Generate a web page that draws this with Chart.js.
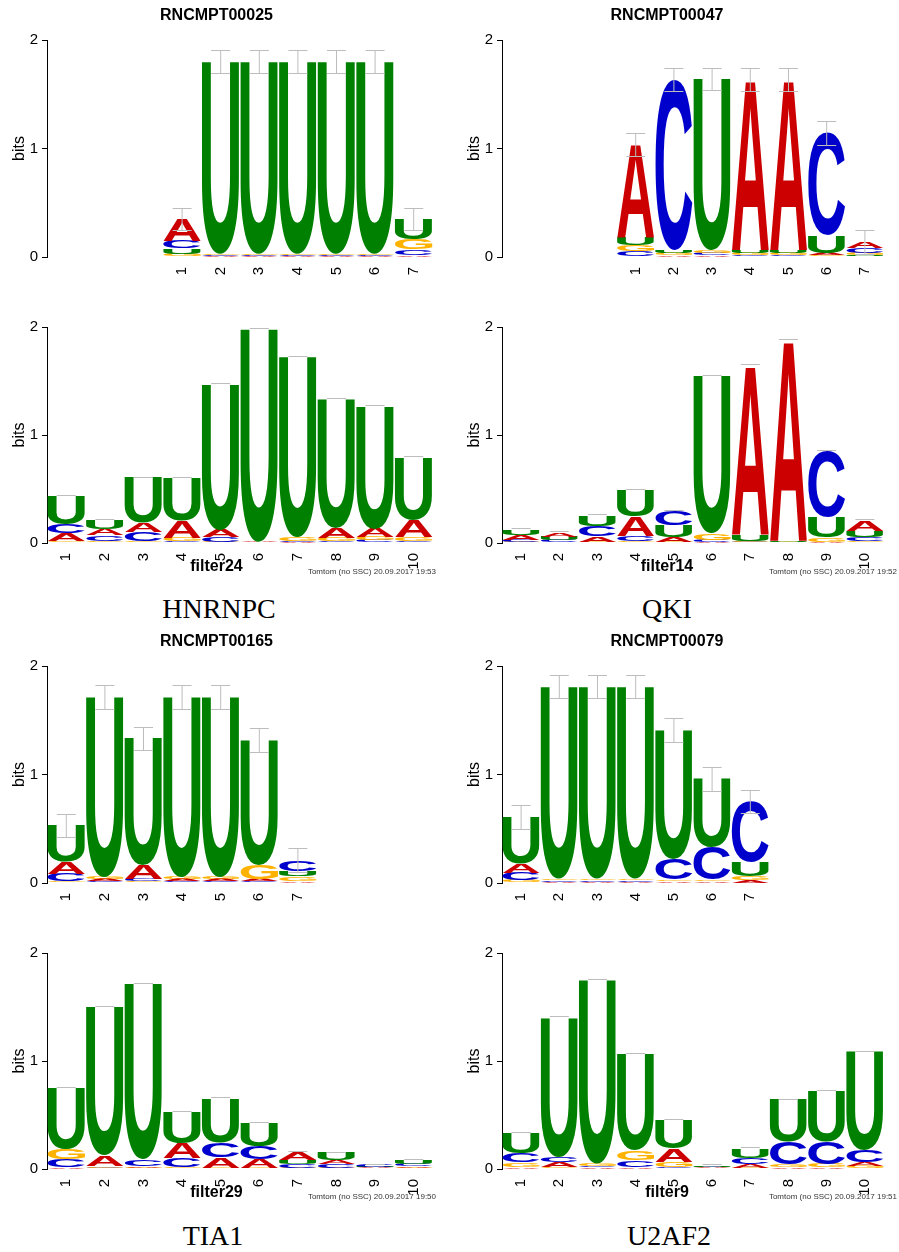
<!DOCTYPE html>
<html>
<head>
<meta charset="utf-8">
<script src="https://cdn.jsdelivr.net/npm/chart.js@4.4.0/dist/chart.umd.min.js"></script>
<style>
  body { margin: 0; background: #fff; width: 899px; height: 1252px; position: relative; overflow: hidden; }
  canvas { position: absolute; }
  .stamp { position: absolute; font: 8px "Liberation Sans", Arial, sans-serif; color: #333; white-space: nowrap; text-align: right; line-height: 10px; }
  .cap { position: absolute; font: 28px "Liberation Serif", "Times New Roman", serif; line-height: 32px; transform: translateX(-50%); white-space: nowrap; color: #000; }
</style>
</head>
<body>
<canvas id="c1" width="440" height="290" style="left:0;top:0"></canvas>
<canvas id="c2" width="449" height="290" style="left:450px;top:0"></canvas>
<canvas id="c3" width="440" height="300" style="left:0;top:290px"></canvas>
<canvas id="c4" width="449" height="300" style="left:450px;top:290px"></canvas>
<canvas id="c5" width="440" height="290" style="left:0;top:626px"></canvas>
<canvas id="c6" width="449" height="290" style="left:450px;top:626px"></canvas>
<canvas id="c7" width="440" height="300" style="left:0;top:916px"></canvas>
<canvas id="c8" width="449" height="300" style="left:450px;top:916px"></canvas>

<div class="stamp" style="right:463px;top:567px">Tomtom (no SSC) 20.09.2017 19:53</div>
<div class="stamp" style="right:2px;top:567px">Tomtom (no SSC) 20.09.2017 19:52</div>
<div class="stamp" style="right:463px;top:1192px">Tomtom (no SSC) 20.09.2017 19:50</div>
<div class="stamp" style="right:2px;top:1192px">Tomtom (no SSC) 20.09.2017 19:51</div>

<div class="cap" style="left:219px;top:593px">HNRNPC</div>
<div class="cap" style="left:667px;top:593px">QKI</div>
<div class="cap" style="left:213px;top:1220px">TIA1</div>
<div class="cap" style="left:669px;top:1220px">U2AF2</div>

<script>
// position labels
const motifPos = ['1', '2', '3', '4', '5', '6', '7'];
const filterPos = ['1', '2', '3', '4', '5', '6', '7', '8', '9', '10'];

// HNRNPC - RNCMPT00025 (bits per letter, per position)
const rn25A = [0.20, 0.01, 0.01, 0.01, 0.01, 0.01, 0.02];
const rn25C = [0.07, 0.01, 0.01, 0.01, 0.01, 0.01, 0.05];
const rn25G = [0.03, 0.01, 0.01, 0.01, 0.01, 0.01, 0.09];
const rn25U = [0.05, 1.77, 1.77, 1.77, 1.77, 1.77, 0.19];
const rn25Err = [0.105, 0.105, 0.105, 0.105, 0.105, 0.105, 0.105];

// HNRNPC - filter24
const f24A = [0.07, 0.06, 0.085, 0.16, 0.065, 0.005, 0.01, 0.09, 0.08, 0.16];
const f24C = [0.08, 0.05, 0.08, 0.02, 0.045, 0.003, 0.01, 0.015, 0.025, 0.02];
const f24G = [0.02, 0.02, 0.02, 0.03, 0.01, 0.003, 0.035, 0.035, 0.03, 0.035];
const f24U = [0.26, 0.08, 0.42, 0.39, 1.35, 1.97, 1.67, 1.19, 1.13, 0.58];

// QKI - RNCMPT00047
const rn47A = [0.86, 0.02, 0.015, 1.57, 1.57, 0.02, 0.055];
const rn47C = [0.05, 1.57, 0.02, 0.02, 0.02, 0.95, 0.045];
const rn47G = [0.06, 0.02, 0.025, 0.02, 0.02, 0.015, 0.02];
const rn47U = [0.065, 0.025, 1.58, 0.025, 0.025, 0.16, 0.018];
const rn47Err = [0.105, 0.105, 0.105, 0.105, 0.105, 0.11, 0.11];

// QKI - filter14
const f14A = [0.045, 0.04, 0.05, 0.185, 0.045, 0.01, 1.57, 1.86, 0.01, 0.10];
const f14C = [0.02, 0.02, 0.095, 0.05, 0.135, 0.02, 0.01, 0.005, 0.61, 0.04];
const f14G = [0.01, 0.008, 0.01, 0.015, 0.01, 0.06, 0.01, 0.005, 0.04, 0.015];
const f14U = [0.05, 0.03, 0.10, 0.24, 0.11, 1.46, 0.06, 0.01, 0.19, 0.055];

// TIA1 - RNCMPT00165
const rn165A = [0.11, 0.02, 0.13, 0.02, 0.02, 0.02, 0.02];
const rn165C = [0.07, 0.015, 0.02, 0.015, 0.015, 0.015, 0.10];
const rn165G = [0.015, 0.02, 0.015, 0.02, 0.02, 0.13, 0.04];
const rn165U = [0.335, 1.66, 1.17, 1.66, 1.66, 1.15, 0.05];
const rn165Err = [0.11, 0.11, 0.105, 0.11, 0.11, 0.11, 0.11];

// TIA1 - filter29
const f29A = [0.02, 0.10, 0.015, 0.14, 0.10, 0.085, 0.07, 0.04, 0.008, 0.015];
const f29C = [0.07, 0.01, 0.06, 0.085, 0.135, 0.115, 0.035, 0.035, 0.018, 0.025];
const f29G = [0.095, 0.015, 0.01, 0.015, 0.01, 0.01, 0.012, 0.01, 0.006, 0.01];
const f29U = [0.56, 1.37, 1.63, 0.29, 0.41, 0.215, 0.04, 0.065, 0.008, 0.035];

// U2AF2 - RNCMPT00079
const rn79A = [0.08, 0.013, 0.013, 0.013, 0.015, 0.015, 0.03];
const rn79C = [0.07, 0.013, 0.013, 0.013, 0.19, 0.30, 0.555];
const rn79G = [0.025, 0.014, 0.014, 0.014, 0.015, 0.015, 0.035];
const rn79U = [0.43, 1.77, 1.77, 1.77, 1.19, 0.63, 0.13];
const rn79Err = [0.11, 0.105, 0.105, 0.105, 0.11, 0.11, 0.105];

// U2AF2 - filter9
const f9A = [0.02, 0.045, 0.015, 0.02, 0.125, 0.008, 0.035, 0.015, 0.015, 0.035];
const f9C = [0.085, 0.05, 0.015, 0.065, 0.02, 0.008, 0.06, 0.21, 0.21, 0.11];
const f9G = [0.04, 0.02, 0.02, 0.09, 0.045, 0.007, 0.01, 0.025, 0.03, 0.03];
const f9U = [0.19, 1.29, 1.70, 0.89, 0.26, 0.009, 0.085, 0.39, 0.465, 0.91];

const filterCap = 0.01;
const letterColors = { A: '#cc0000', C: '#0000cc', G: '#ffb300', U: '#008000' };
const FONT = '"Liberation Sans", Arial, Helvetica, sans-serif';
Chart.defaults.font.family = FONT;
Chart.defaults.color = '#000';

// one dataset per stack rank (smallest letter at the bottom)
function stackLetters(cols, offset, slots) {
  const sets = [0, 1, 2, 3].map(() => ({
    data: new Array(slots).fill(null),
    letters: new Array(slots).fill(null),
    backgroundColor: 'rgba(0,0,0,0)',
    borderWidth: 0
  }));
  const n = cols.A.length;
  for (let i = 0; i < n; i++) {
    const order = ['A', 'C', 'G', 'U'].map(l => [l, cols[l][i]]).sort((a, b) => a[1] - b[1]);
    order.forEach((e, r) => {
      sets[r].data[i + offset] = e[1];
      sets[r].letters[i + offset] = e[0];
    });
  }
  return sets;
}

function drawGlyph(ctx, ch, left, top, w, h) {
  ctx.save();
  ctx.font = 'bold 100px ' + FONT;
  ctx.textAlign = 'left';
  ctx.textBaseline = 'alphabetic';
  const m = ctx.measureText(ch);
  const gw = m.actualBoundingBoxLeft + m.actualBoundingBoxRight;
  const gh = m.actualBoundingBoxAscent + m.actualBoundingBoxDescent;
  ctx.translate(left, top);
  ctx.scale(w / gw, h / gh);
  ctx.fillStyle = letterColors[ch];
  ctx.fillText(ch, m.actualBoundingBoxLeft, m.actualBoundingBoxAscent);
  ctx.restore();
}

const logoLetters = {
  id: 'logoLetters',
  afterDatasetsDraw(chart) {
    const ctx = chart.ctx;
    chart.data.datasets.forEach((ds, di) => {
      chart.getDatasetMeta(di).data.forEach((bar, i) => {
        if (ds.data[i] == null || !ds.letters[i]) return;
        const p = bar.getProps(['x', 'y', 'base', 'width'], true);
        const h = p.base - p.y;
        if (!(h > 0.15)) return;
        drawGlyph(ctx, ds.letters[i], p.x - p.width / 2, p.y, p.width, h);
      });
    });
  }
};

const errorBars = {
  id: 'errorBars',
  afterDatasetsDraw(chart, args, opts) {
    const ctx = chart.ctx, xs = chart.scales.x, ys = chart.scales.y;
    const slots = chart.data.labels.length;
    ctx.save();
    ctx.strokeStyle = '#bdbdbd';
    ctx.lineWidth = 1;
    let k = 0;
    for (let i = 0; i < slots; i++) {
      let total = null;
      chart.data.datasets.forEach(ds => { if (ds.data[i] != null) total = (total || 0) + ds.data[i]; });
      if (total == null) continue;
      const cx = xs.getPixelForValue(i);
      const half = 9.5;
      ctx.beginPath();
      if (opts.err) {
        const e = opts.err[k++];
        const hi = Math.round(ys.getPixelForValue(total + e)) + 0.5;
        const lo = Math.round(ys.getPixelForValue(total - e)) + 0.5;
        ctx.moveTo(cx - half, hi); ctx.lineTo(cx + half, hi);
        ctx.moveTo(cx - half, lo); ctx.lineTo(cx + half, lo);
        ctx.moveTo(cx, hi); ctx.lineTo(cx, lo);
      } else {
        const hi = Math.round(ys.getPixelForValue(total + opts.cap)) + 0.5;
        ctx.moveTo(cx - half, hi); ctx.lineTo(cx + half, hi);
      }
      ctx.stroke();
    }
    ctx.restore();
  }
};

function makeLogo(id, o) {
  const datasets = stackLetters(o.cols, o.offset, o.labels.length);
  const isTop = o.titlePos === 'top';
  new Chart(document.getElementById(id), {
    type: 'bar',
    data: { labels: o.labels, datasets },
    options: {
      responsive: false,
      animation: false,
      layout: { padding: { top: isTop ? 0 : 37, right: o.right ? 15 : 7, left: 0, bottom: 0 } },
      datasets: { bar: { categoryPercentage: 1, barPercentage: 0.97 } },
      plugins: {
        colors: { enabled: false },
        legend: { display: false },
        tooltip: { enabled: false },
        title: {
          display: true, text: o.title, position: o.titlePos, color: '#000',
          font: { size: 16, weight: 'bold' },
          padding: isTop ? { top: 6.4, bottom: 14.4 } : { top: -11, bottom: 13.4 }
        },
        errorBars: { err: o.err, cap: filterCap }
      },
      scales: {
        x: {
          stacked: true,
          grid: { display: false },
          border: { display: false },
          ticks: { minRotation: 90, maxRotation: 90, autoSkip: false, padding: 2, font: { size: 15 }, color: '#000' },
          afterFit: s => { s.height = isTop ? 33 : 25.4; }
        },
        y: {
          stacked: true, min: 0, max: 2,
          ticks: { stepSize: 1, padding: 4, font: { size: 15 }, color: '#000' },
          grid: { drawOnChartArea: false, drawTicks: true, tickLength: 5, color: '#000' },
          border: { display: true, color: '#000', width: 1 },
          title: { display: true, text: 'bits', font: { size: 16 }, color: '#000', padding: { top: o.right ? 15.4 : 10.4, bottom: 0 } },
          afterFit: s => { s.width = o.right ? 52 : 47; }
        }
      }
    },
    plugins: [logoLetters, errorBars]
  });
}

const pad3 = ['', '', ''];
makeLogo('c1', { title: 'RNCMPT00025', titlePos: 'top', labels: pad3.concat(motifPos), offset: 3,
  cols: { A: rn25A, C: rn25C, G: rn25G, U: rn25U }, err: rn25Err });
makeLogo('c2', { title: 'RNCMPT00047', titlePos: 'top', labels: pad3.concat(motifPos), offset: 3, right: true,
  cols: { A: rn47A, C: rn47C, G: rn47G, U: rn47U }, err: rn47Err });
makeLogo('c3', { title: 'filter24', titlePos: 'bottom', labels: filterPos, offset: 0,
  cols: { A: f24A, C: f24C, G: f24G, U: f24U } });
makeLogo('c4', { title: 'filter14', titlePos: 'bottom', labels: filterPos, offset: 0, right: true,
  cols: { A: f14A, C: f14C, G: f14G, U: f14U } });
makeLogo('c5', { title: 'RNCMPT00165', titlePos: 'top', labels: motifPos.concat(pad3), offset: 0,
  cols: { A: rn165A, C: rn165C, G: rn165G, U: rn165U }, err: rn165Err });
makeLogo('c6', { title: 'RNCMPT00079', titlePos: 'top', labels: motifPos.concat(pad3), offset: 0, right: true,
  cols: { A: rn79A, C: rn79C, G: rn79G, U: rn79U }, err: rn79Err });
makeLogo('c7', { title: 'filter29', titlePos: 'bottom', labels: filterPos, offset: 0,
  cols: { A: f29A, C: f29C, G: f29G, U: f29U } });
makeLogo('c8', { title: 'filter9', titlePos: 'bottom', labels: filterPos, offset: 0, right: true,
  cols: { A: f9A, C: f9C, G: f9G, U: f9U } });
</script>
</body>
</html>
